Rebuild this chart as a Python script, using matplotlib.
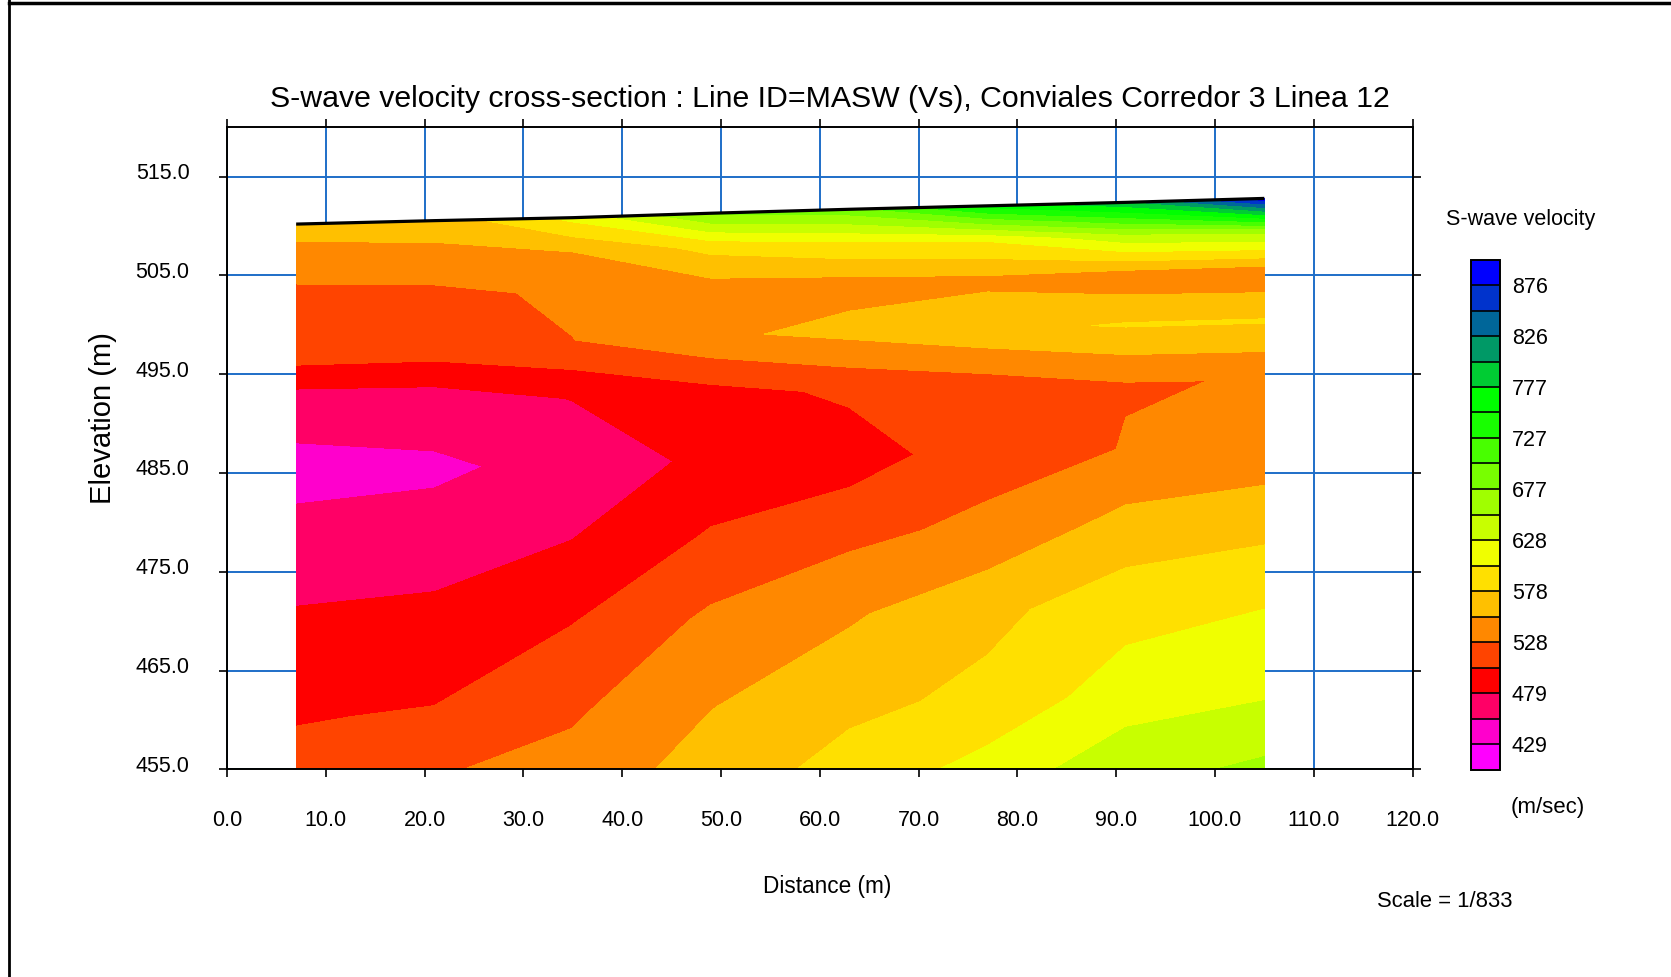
#Sezione Vs da MASW - Conviales Corredor 3 Linea 12
import numpy as np
import matplotlib
matplotlib.use('Agg')
import matplotlib.pyplot as plt
from matplotlib.lines import Line2D
from matplotlib.transforms import ScaledTranslation

plt.rcParams['font.family'] = ['Liberation Sans', 'DejaVu Sans']

#Stazioni (m), quota del piano campagna (m), profondita' dei nodi (m)
distanza = [7, 21, 35, 49, 63, 77, 91, 105]
quota_sup = [510.2, 510.55, 510.85, 511.3, 511.7, 512.05, 512.4, 512.8]
prof = [0.0, 3.4, 7.5, 12.4, 18.3, 25.0, 32.7, 41.0, 50.0, 60.0]

#Vs (m/s) per ogni stazione, dalla superficie verso il basso
vs_07 = [571.6, 536.5, 524.0, 522.8, 462.3, 447.6, 462.0, 485.1, 502.5, 515.0]
vs_21 = [562.3, 548.2, 522.0, 520.9, 464.5, 450.3, 463.5, 489.4, 505.1, 540.0]
vs_35 = [610.0, 553.5, 532.7, 528.0, 479.5, 460.5, 479.0, 503.0, 525.0, 545.0]
vs_49 = [680.0, 586.0, 543.7, 549.0, 494.6, 485.6, 506.1, 532.7, 552.5, 570.0]
vs_63 = [693.0, 600.0, 544.0, 560.0, 508.0, 491.0, 521.5, 550.0, 570.8, 598.3]
vs_77 = [760.0, 606.0, 546.9, 572.2, 516.0, 517.7, 534.6, 571.4, 584.8, 623.8]
vs_91 = [796.0, 645.0, 536.7, 580.0, 527.5, 529.2, 562.0, 593.0, 615.9, 653.4]
vs_105 = [890.0, 656.0, 534.0, 580.0, 529.0, 536.1, 568.6, 601.4, 624.0, 667.8]

#Scala colori: 20 classi tra vs_min e vs_max
vs_min, vs_max = 404.2, 900.9
colori = ['#ff00ff', '#ff00cc', '#ff0066', '#ff0000', '#ff4400',
          '#ff8800', '#ffc000', '#ffe000', '#f0ff00', '#c8ff00',
          '#a0ff00', '#78ff00', '#48ff00', '#18ff00', '#00ff00',
          '#00cc33', '#009966', '#006699', '#0033cc', '#0000ff']
etichette_cb = ['429', '479', '528', '578', '628', '677', '727', '777', '826', '876']

x_tick = [0, 10, 20, 30, 40, 50, 60, 70, 80, 90, 100, 110, 120]
y_tick = [455, 465, 475, 485, 495, 505, 515]

W, H = 1671, 977
fig = plt.figure(figsize=(W/100, H/100), dpi=100)
ax = fig.add_axes([227/W, 1-769.3/H, (1412.5-227)/W, (769.3-127.3)/H])

#Griglia curvilinea: x delle stazioni, quota = superficie - profondita'
X = np.array([distanza for d in prof], dtype=float)
Y = np.array([[s - d for s in quota_sup] for d in prof])
V = np.array([vs_07, vs_21, vs_35, vs_49, vs_63, vs_77, vs_91, vs_105]).T

livelli = np.linspace(vs_min, vs_max, len(colori) + 1)
cs = ax.contourf(X, Y, V, levels=livelli, colors=colori)
ax.plot(distanza, quota_sup, color='black', lw=2.3, solid_capstyle='butt')

ax.set_xlim(0, 120)
ax.set_ylim(455, 520)
ax.set_xticks(x_tick)
ax.set_xticklabels([f'{v:.1f}' for v in x_tick])
ax.set_yticks(y_tick)
ax.set_yticklabels([f'{v:.1f}' for v in y_tick])
ax.grid(True, color='#1e6ec8', lw=1.4)
ax.set_axisbelow(True)
for s in ax.spines.values():
    s.set_linewidth(1.4)
ax.tick_params(direction='out', length=6, width=1.2, top=True, right=True,
               labelsize=15.5)
ax.tick_params(axis='x', pad=23)
ax.tick_params(axis='y', pad=21)
#etichette delle quote un po' sopra la tacca
su = ScaledTranslation(0, 4/72, fig.dpi_scale_trans)
for lab in ax.get_yticklabels():
    lab.set_transform(lab.get_transform() + su)

#Titoli e scritte
fig.text(830/W, 1-99/H, 'S-wave velocity cross-section : Line ID=MASW (Vs), '
         'Conviales Corredor 3 Linea 12', ha='center', va='center', fontsize=21.8)
fig.text(103/W, 1-418/H, 'Elevation (m)', rotation=90, ha='center', va='center',
         fontsize=21)
fig.text(827/W, 1-886/H, 'Distance (m)', ha='center', va='center', fontsize=16.3)
fig.text(1521/W, 1-220/H, 'S-wave velocity', ha='center', va='center', fontsize=15.5)
fig.text(1548/W, 1-807.5/H, '(m/sec)', ha='center', va='center', fontsize=16)
fig.text(1445/W, 1-901.5/H, 'Scale = 1/833', ha='center', va='center', fontsize=15.8)

#Barra colori
cax = fig.add_axes([1470.5/W, 1-769.5/H, 29/W, 510/H])
cb = fig.colorbar(cs, cax=cax, drawedges=True)
cb.outline.set_linewidth(1.4)
cb.dividers.set_color('black')
cb.dividers.set_linewidth(1.2)
cb.set_ticks(livelli[1::2])
cb.set_ticklabels(etichette_cb)
cb.ax.tick_params(length=0, pad=9, labelsize=15.5)

#Cornice esterna
fig.add_artist(Line2D([8.5/W, 8.5/W], [0, 1], transform=fig.transFigure,
                      color='black', lw=2))
fig.add_artist(Line2D([8.5/W, 1], [1-3/H, 1-3/H], transform=fig.transFigure,
                      color='black', lw=2.5))

fig.savefig('out.png', dpi=100)
